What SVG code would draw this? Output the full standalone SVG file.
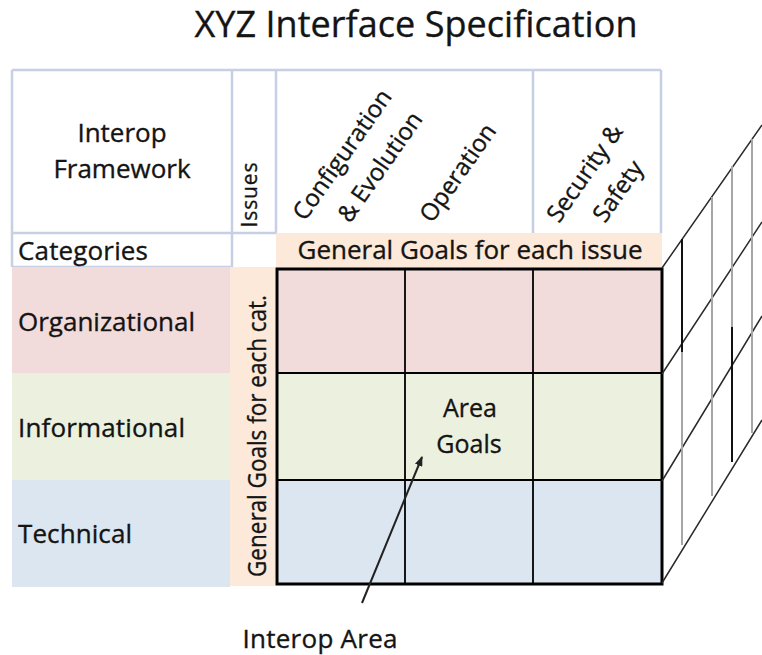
<svg xmlns="http://www.w3.org/2000/svg" width="762" height="655" viewBox="0 0 762 655">
<defs>
<style>
text{font-family:"Open Sans","Liberation Sans",sans-serif;fill:#141414;stroke:#141414;stroke-width:0.35}
.t26{font-size:26px}
.t24{font-size:24px}
.hdr{stroke:#c6d0e4;stroke-width:2.5;fill:none}
.grid{stroke:#000;stroke-width:1.8;fill:none}
.diag{stroke:#2a2a2a;stroke-width:1.5;fill:none}
.vg{stroke:#a6a6a6;stroke-width:2;fill:none}
.vb{stroke:#111;stroke-width:2;fill:none}
</style>
<marker id="ah" markerWidth="10" markerHeight="8" refX="9" refY="4" orient="auto" markerUnits="userSpaceOnUse">
<path d="M0,0 L10,4 L0,8 Z" fill="#222"/>
</marker>
</defs>
<rect width="762" height="655" fill="#fff"/>

<g id="title">
<text x="416" y="37" font-size="36" text-anchor="middle" textLength="443">XYZ Interface Specification</text>
</g>

<g id="header">
<rect x="276" y="233" width="386" height="35" fill="#fde9d9"/>
<path class="hdr" d="M12,70 H661 M12,70 V267 M232,70 V267 M276,70 V233 M533,70 V233 M661,70 V233 M12,233 H276 M12,267 H232"/>
<text class="t26" x="122" y="142" text-anchor="middle">Interop</text>
<text class="t26" x="122" y="178" text-anchor="middle">Framework</text>
<text font-size="21" transform="translate(257,195) rotate(-90)" text-anchor="middle" textLength="65">Issues</text>
<text class="t26" x="18" y="260" textLength="130">Categories</text>
<text class="t26" x="470" y="259" text-anchor="middle" textLength="345">General Goals for each issue</text>
</g>

<g id="issue-config">
<text class="t24" transform="translate(305,222) rotate(-55)">Configuration</text>
<text class="t24" transform="translate(350,224) rotate(-55)">&amp; Evolution</text>
</g>
<g id="issue-operation">
<text class="t24" transform="translate(432,224) rotate(-55)">Operation</text>
</g>
<g id="issue-security">
<text class="t24" transform="translate(559,224) rotate(-55)">Security &amp;</text>
<text class="t24" transform="translate(605,224) rotate(-55)">Safety</text>
</g>

<g id="categories">
<rect x="12" y="267" width="218" height="106" fill="#f2dcdb"/>
<rect x="12" y="373" width="218" height="107" fill="#ebf1de"/>
<rect x="12" y="480" width="218" height="107" fill="#dce6f1"/>
<rect x="230" y="267" width="45" height="319" fill="#fde9d9"/>
<text class="t26" x="18" y="331" textLength="177">Organizational</text>
<text class="t26" x="18" y="437" textLength="167">Informational</text>
<text class="t26" x="18" y="543" textLength="114">Technical</text>
<text font-size="25" transform="translate(266,436) rotate(-90)" text-anchor="middle" textLength="282" lengthAdjust="spacingAndGlyphs">General Goals for each cat.</text>
</g>

<g id="grid">
<rect x="277" y="269" width="385" height="104" fill="#f2dcdb"/>
<rect x="277" y="373" width="385" height="107" fill="#ebf1de"/>
<rect x="277" y="480" width="385" height="104" fill="#dce6f1"/>
<path class="grid" d="M277,373 H662 M277,480 H662 M405,269 V584 M533,269 V584"/>
<rect x="277" y="269" width="385" height="315" fill="none" stroke="#000" stroke-width="3"/>
</g>

<g id="area-goals">
<text font-size="25" x="470" y="417" text-anchor="middle">Area</text>
<text font-size="25" x="469" y="453" text-anchor="middle">Goals</text>
</g>

<g id="interop-area">
<text class="t26" x="320" y="648" text-anchor="middle" textLength="155">Interop Area</text>
</g>

<g id="depth">
<path class="diag" d="M662,268 L762,125 M662,374 L762,222 M662,481 L762,316 M662,583 L762,420"/>
<path class="vb" d="M682,239 V352"/>
<path class="vg" d="M682,352 V545"/>
<path class="vg" d="M712,197 V496"/>
<path class="vg" d="M732,166 V327"/>
<path class="vb" d="M732,327 V462"/>
<path class="vg" d="M752,139 V433"/>
</g>

<g id="connectors">
<line x1="362" y1="603" x2="422" y2="457" stroke="#222" stroke-width="2" marker-end="url(#ah)"/>
</g>
</svg>
